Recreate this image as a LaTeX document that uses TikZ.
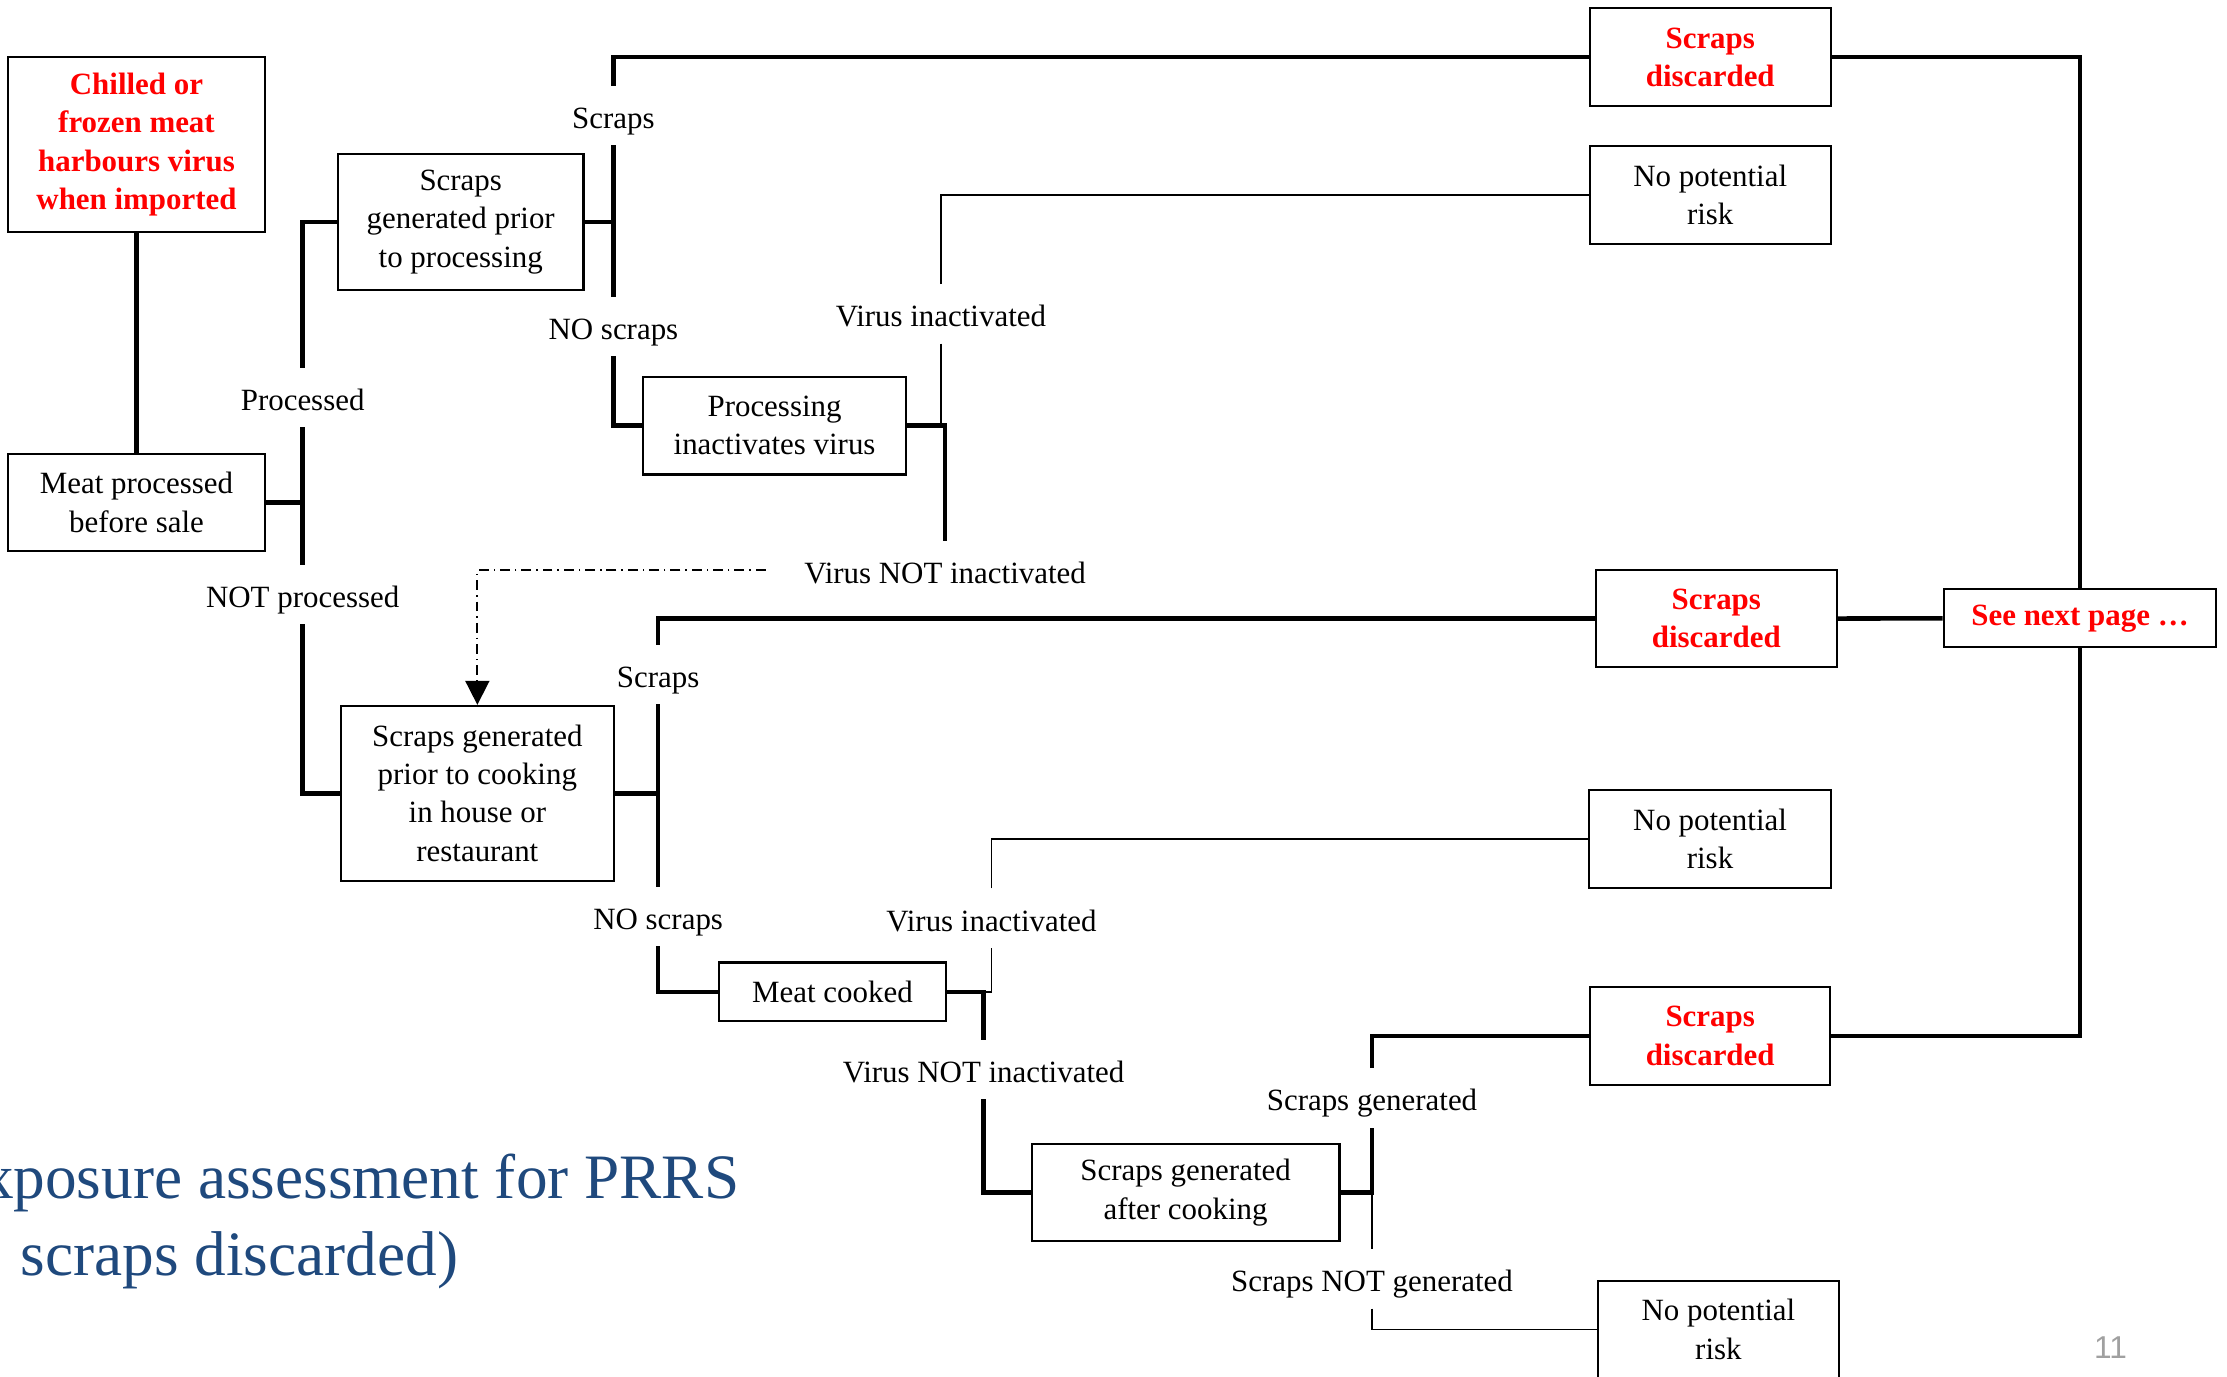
\documentclass[tikz,border=0pt]{standalone}
\usepackage{fontspec}
\setmainfont{Liberation Serif}
\newfontfamily\numfont{Liberation Sans}
\usetikzlibrary{arrows.meta}
\newdimen\pxu \pxu=0.014203cm
\definecolor{alert}{RGB}{255,0,0}
\definecolor{titleblue}{RGB}{31,73,125}
\definecolor{pagegray}{RGB}{160,160,160}

\begin{document}
\begin{tikzpicture}[x=0.014203cm, y=-0.014203cm,
  box/.style={draw, line width=0.6pt, inner sep=0pt, align=center,
    font=\fontsize{8.8}{10.9}\selectfont},
  riskbox/.style={box, text=alert, font=\fontsize{8.8}{10.9}\selectfont\bfseries},
  lbl/.style={inner sep=0pt, minimum height=41\pxu, text height=9.3pt, text depth=2pt,
    font=\fontsize{8.8}{10.9}\selectfont},
  trunk/.style={line width=1.3pt},
  twig/.style={line width=0.5pt},
  hintline/.style={line width=0.5pt, dash pattern=on 7\pxu off 3.5\pxu on 1\pxu off 3.5\pxu},
]
\useasboundingbox (0,0) rectangle (1568,969);

% decision boxes
\node[riskbox, minimum width=181\pxu, minimum height=122.9\pxu] (ch) at (96.1,101.85)
  {Chilled or\\frozen meat\\harbours virus\\when imported};
\node[box, minimum width=181\pxu, minimum height=68.4\pxu] (mp) at (96.1,353.8)
  {Meat processed\\before sale};
\node[box, minimum width=172.8\pxu, minimum height=95.7\pxu] (sp) at (324.4,156.2)
  {Scraps\\generated prior\\to processing};
\node[box, minimum width=185.5\pxu, minimum height=68.7\pxu] (proc) at (545.35,299.75)
  {Processing\\inactivates virus};
\node[box, minimum width=192.2\pxu, minimum height=123\pxu] (spc) at (336.1,558.5)
  {Scraps generated\\prior to cooking\\in house or\\restaurant};
\node[box, minimum width=160\pxu, minimum height=41.3\pxu] (mc) at (586.1,698.35)
  {Meat cooked};
\node[box, minimum width=216.7\pxu, minimum height=68.3\pxu] (sac) at (834.75,839.6)
  {Scraps generated\\after cooking};

% outcomes
\node[riskbox, minimum width=169.5\pxu, minimum height=69.1\pxu] (sd1) at (1204.15,40.25)
  {Scraps\\discarded};
\node[box, minimum width=169.5\pxu, minimum height=68.5\pxu] (npr1) at (1204.15,137.35)
  {No potential\\risk};
\node[riskbox, minimum width=169.4\pxu, minimum height=68.2\pxu] (sd2) at (1208.4,435.5)
  {Scraps\\discarded};
\node[riskbox, minimum width=192\pxu, minimum height=40.9\pxu] (snp) at (1464.5,435.35)
  {See next page …};
\node[box, minimum width=170\pxu, minimum height=69\pxu] (npr2) at (1204,590.5)
  {No potential\\risk};
\node[riskbox, minimum width=168.8\pxu, minimum height=68.7\pxu] (sd3) at (1204.1,729.3)
  {Scraps\\discarded};
\node[box, minimum width=169.2\pxu, minimum height=68\pxu] (npr3) at (1209.9,936)
  {No potential\\risk};

% branch labels
\node[lbl] (lp)   at (213.1,279.9) {Processed};
\node[lbl] (lnp)  at (213.1,418.6) {NOT processed};
\node[lbl] (ls1)  at (431.9,81.3)  {Scraps};
\node[lbl] (lns1) at (431.9,229.9) {NO scraps};
\node[lbl] (lvi1) at (662.5,221)   {Virus inactivated};
\node[lbl] (lvn1) at (665.4,401.8) {Virus NOT inactivated};
\node[lbl] (ls2)  at (463.4,474.9) {Scraps};
\node[lbl] (lns2) at (463.4,645.4) {NO scraps};
\node[lbl] (lvi2) at (698.1,646.5) {Virus inactivated};
\node[lbl] (lvn2) at (692.5,753.1) {Virus NOT inactivated};
\node[lbl] (lsg)  at (966,773.1)   {Scraps generated};
\node[lbl] (lsng) at (966,900.3)   {Scraps NOT generated};

% tree connectors
\draw[trunk] (ch) -- (mp);
\draw[trunk] (mp.east) -| (lp.south);
\draw[trunk] (lp.north) |- (sp.west);
\draw[trunk] (mp.east -| lp.south) -- (lnp.north);
\draw[trunk] (lnp.south) |- (spc.west);

\draw[trunk] (sp.east) -| (ls1.south);
\draw[trunk] (ls1.north) |- (sd1.west);
\draw[trunk] (sp.east -| ls1.south) -- (lns1.north);
\draw[trunk] (lns1.south) |- (proc.west);

\draw[trunk] (proc.east) -| (lvn1.north);
\draw[twig] (lvi1.south) -- (lvi1.south |- proc.east);
\draw[twig] (lvi1.north) |- (npr1.west);

\coordinate (hintstart) at (539,401.4);
\draw[hintline, -{Triangle[width=0.24cm,length=0.24cm]}] (hintstart) -| (spc.north);

\draw[trunk] (spc.east) -| (ls2.south);
\draw[trunk] (ls2.north) |- (sd2.west);
\draw[trunk] (spc.east -| ls2.south) -- (lns2.north);
\draw[trunk] (lns2.south) |- (mc.west);

\draw[trunk] (mc.east) -| (lvn2.north);
\draw[trunk] (lvn2.south) |- (sac.west);
\draw[twig] (lvi2.south) |- (mc.east -| lvn2.north);
\draw[twig] (lvi2.north) |- (npr2.west);

\draw[trunk] (sac.east) -| (lsg.south);
\draw[trunk] (lsg.north) |- (sd3.west);
\draw[twig] (sac.east -| lsg.south) -- (lsng.north);
\draw[twig] (lsng.south) |- (npr3.west);

\draw[trunk] (sd1.east) -| (snp.north);
\draw[trunk] (sd2.east) -- (snp.west);
\draw[trunk] (snp.south) |- (sd3.east);

% slide title and page number
\node[anchor=base east, inner sep=0pt, text=titleblue, font=\fontsize{18}{21.6}\selectfont]
  (title1) at (521,843.6) {xposure assessment for PRRS};
\node[anchor=base east, inner sep=0pt, text=titleblue, font=\fontsize{18}{21.6}\selectfont]
  (title2) at (323,897.7) {scraps discarded)};
\node[text=pagegray, inner sep=0pt, font=\numfont\fontsize{9}{10}\selectfont] (pgno) at (1486,949) {11};
\end{tikzpicture}
\end{document}
